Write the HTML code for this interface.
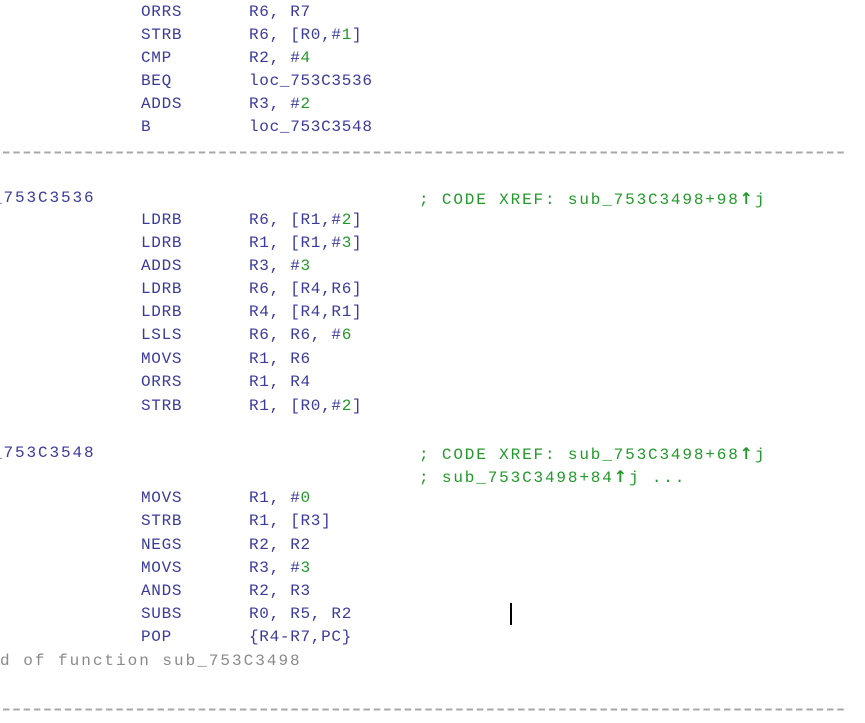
<!DOCTYPE html>
<html><head><meta charset="utf-8"><style>
body{margin:0;width:865px;height:723px;background:#fff;overflow:hidden;position:relative;font-family:"Liberation Mono","DejaVu Sans Mono",monospace;font-size:16px;letter-spacing:0.7px}
.l{position:absolute;height:23px;line-height:23px;white-space:pre;color:#3a3a9c}
.g{color:#22992a}
.c{color:#22992a;letter-spacing:1.85px}
.lb{letter-spacing:1.9px}
.gr{color:#8a8a8a;letter-spacing:2px}
.ar{font-weight:bold;font-family:"DejaVu Sans",sans-serif}
</style></head><body>
<svg style="position:absolute;left:0;top:0" width="865" height="723">
<line x1="3" y1="152.5" x2="846" y2="152.5" stroke="#a8a8a8" stroke-width="2" stroke-dasharray="6.5,3.8"/>
<line x1="3" y1="709.5" x2="846" y2="709.5" stroke="#a8a8a8" stroke-width="2" stroke-dasharray="6.5,3.8"/>
<rect x="510" y="603" width="2" height="22" fill="#000"/>
</svg>
<div class="l" style="left:141px;top:1px">ORRS</div><div class="l" style="left:249px;top:1px">R6, R7</div>
<div class="l" style="left:141px;top:24px">STRB</div><div class="l" style="left:249px;top:24px">R6, [R0,#<span class="g">1</span>]</div>
<div class="l" style="left:141px;top:47px">CMP</div><div class="l" style="left:249px;top:47px">R2, #<span class="g">4</span></div>
<div class="l" style="left:141px;top:70px">BEQ</div><div class="l" style="left:249px;top:70px">loc_753C3536</div>
<div class="l" style="left:141px;top:93px">ADDS</div><div class="l" style="left:249px;top:93px">R3, #<span class="g">2</span></div>
<div class="l" style="left:141px;top:116px">B</div><div class="l" style="left:249px;top:116px">loc_753C3548</div>

<div class="l lb" style="left:-8px;top:187px">_753C3536</div>
<div class="l c" style="left:419px;top:187px">; CODE XREF: sub_753C3498+98<span class="ar">↑</span>j</div>
<div class="l" style="left:141px;top:209px">LDRB</div><div class="l" style="left:249px;top:209px">R6, [R1,#<span class="g">2</span>]</div>
<div class="l" style="left:141px;top:232px">LDRB</div><div class="l" style="left:249px;top:232px">R1, [R1,#<span class="g">3</span>]</div>
<div class="l" style="left:141px;top:255px">ADDS</div><div class="l" style="left:249px;top:255px">R3, #<span class="g">3</span></div>
<div class="l" style="left:141px;top:278px">LDRB</div><div class="l" style="left:249px;top:278px">R6, [R4,R6]</div>
<div class="l" style="left:141px;top:301px">LDRB</div><div class="l" style="left:249px;top:301px">R4, [R4,R1]</div>
<div class="l" style="left:141px;top:324px">LSLS</div><div class="l" style="left:249px;top:324px">R6, R6, #<span class="g">6</span></div>
<div class="l" style="left:141px;top:348px">MOVS</div><div class="l" style="left:249px;top:348px">R1, R6</div>
<div class="l" style="left:141px;top:371px">ORRS</div><div class="l" style="left:249px;top:371px">R1, R4</div>
<div class="l" style="left:141px;top:395px">STRB</div><div class="l" style="left:249px;top:395px">R1, [R0,#<span class="g">2</span>]</div>

<div class="l lb" style="left:-8px;top:442px">_753C3548</div>
<div class="l c" style="left:419px;top:442px">; CODE XREF: sub_753C3498+68<span class="ar">↑</span>j</div>
<div class="l c" style="left:419px;top:465px">; sub_753C3498+84<span class="ar">↑</span>j ...</div>
<div class="l" style="left:141px;top:487px">MOVS</div><div class="l" style="left:249px;top:487px">R1, #<span class="g">0</span></div>
<div class="l" style="left:141px;top:510px">STRB</div><div class="l" style="left:249px;top:510px">R1, [R3]</div>
<div class="l" style="left:141px;top:534px">NEGS</div><div class="l" style="left:249px;top:534px">R2, R2</div>
<div class="l" style="left:141px;top:557px">MOVS</div><div class="l" style="left:249px;top:557px">R3, #<span class="g">3</span></div>
<div class="l" style="left:141px;top:580px">ANDS</div><div class="l" style="left:249px;top:580px">R2, R3</div>
<div class="l" style="left:141px;top:603px">SUBS</div><div class="l" style="left:249px;top:603px">R0, R5, R2</div>
<div class="l" style="left:141px;top:626px">POP</div><div class="l" style="left:249px;top:626px">{R4-R7,PC}</div>
<div class="l gr" style="left:0px;top:650px">d of function sub_753C3498</div>
</body></html>
